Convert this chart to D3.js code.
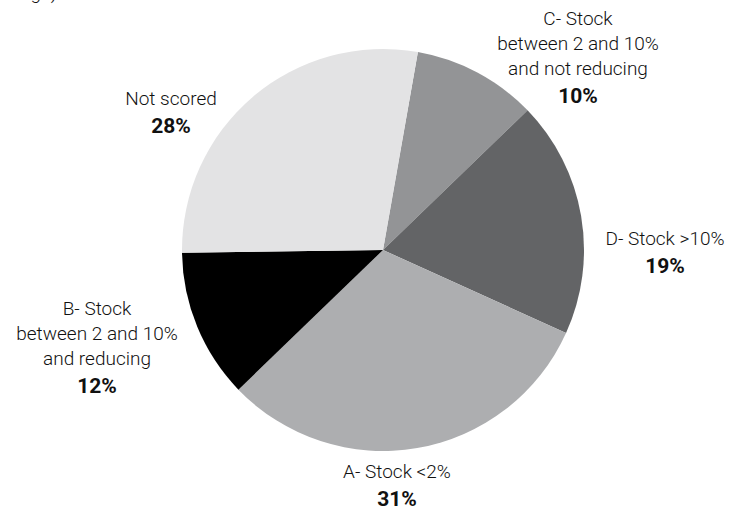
<!DOCTYPE html>
<html>
  <head>
    <script type="text/javascript" src="https://cdn.jsdelivr.net/npm/d3@7/dist/d3.min.js"></script>
    <style>
      body { margin: 0; background: #fff; }
      text { font-family: "Liberation Sans Narrow", "Roboto", sans-serif; fill: #111; }
    </style>
  </head>
  <body>
  <script type='text/javascript'>

    // slices, clockwise from just right of 12 o'clock
    var categories = ["C", "D", "A", "B", "Not scored"];
    var values = [10, 19, 31, 12, 28];
    var colors = ["#939496", "#636466", "#adaeb0", "#000000", "#e3e3e4"];
    var labelLines = [
      ["C- Stock", "between 2 and 10%", "and not reducing"],
      ["D- Stock >10%"],
      ["A- Stock <2%"],
      ["B- Stock", "between 2 and 10%", "and reducing"],
      ["Not scored"]
    ];
    // label anchor (centre x, first baseline y)
    var labelPos = [[578, 25], [665, 245], [397, 478], [97, 315], [171, 105]];

    var CX = 383, CY = 250, R = 201;
    var START = 10 * Math.PI / 180;

    var svg = d3.select("body").append("svg")
        .attr("width", 733)
        .attr("height", 514);

    // cut-off heading remains at the very top
    svg.append("text")
        .attr("x", 57)
        .attr("y", -1)
        .attr("text-anchor", "end")
        .style("font-size", "19px")
        .style("font-weight", 300)
        .text("ratings)");

    var pie = d3.pie()
        .sort(null)
        .startAngle(START)
        .endAngle(START + 2 * Math.PI);

    var arc = d3.arc().innerRadius(0).outerRadius(R);

    var g = svg.append("g").attr("transform", "translate(" + CX + "," + CY + ")");

    g.selectAll("path")
      .data(pie(values))
      .enter().append("path")
        .attr("d", arc)
        .attr("fill", function(d, i){ return colors[i]; });

    var labels = svg.selectAll("g.lbl")
      .data(categories)
      .enter().append("g")
        .attr("class", "lbl");

    labels.each(function(c, i){
      var el = d3.select(this);
      var lines = labelLines[i];
      var x = labelPos[i][0], y = labelPos[i][1];
      lines.forEach(function(t, k){
        el.append("text")
          .attr("x", x)
          .attr("y", y + k * 25)
          .attr("text-anchor", "middle")
          .style("font-size", "19px")
          .style("font-weight", 300)
          .text(t);
      });
      el.append("text")
        .attr("x", x)
        .attr("y", y + (lines.length - 1) * 25 + 28)
        .attr("text-anchor", "middle")
        .style("font-size", "21px")
        .style("font-weight", "bold")
        .text(values[i] + "%");
    });

  </script>
  </body>
</html>
